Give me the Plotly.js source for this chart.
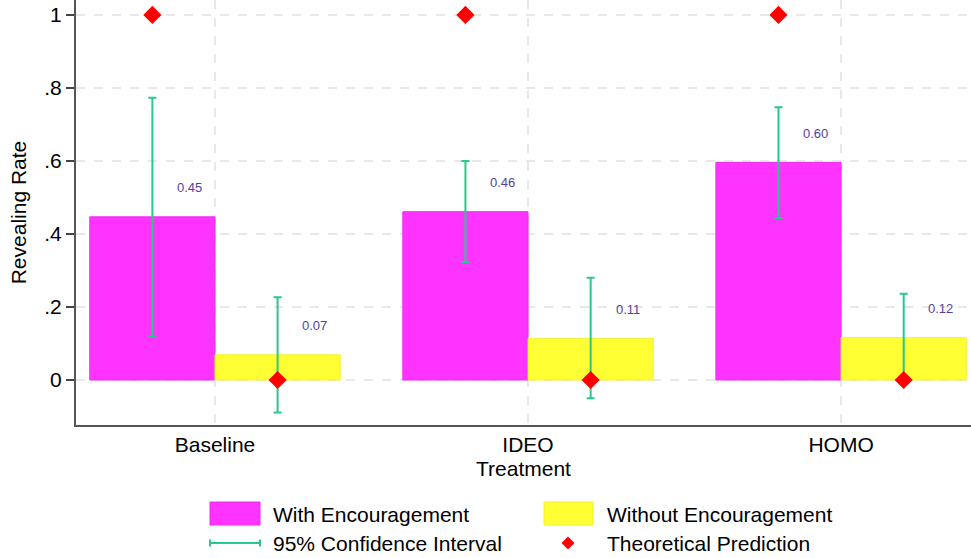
<!DOCTYPE html>
<html>
<head>
<meta charset="utf-8">
<script src="https://cdn.plot.ly/plotly-3.0.1.min.js"></script>
<style>html,body{margin:0;padding:0;background:#fff;}#chart{width:971px;height:558px;}</style>
</head>
<body>
<div id="chart"></div>
<script>
// ---- data ----
const categories = ["Baseline", "IDEO", "HOMO"];
const withEnc = [0.447, 0.461, 0.596];
const withLo = [0.119, 0.323, 0.444];
const withHi = [0.773, 0.600, 0.747];
const withoutEnc = [0.069, 0.114, 0.116];
const withoutLo = [-0.089, -0.050, 0.000];
const withoutHi = [0.227, 0.280, 0.236];
const theoryWith = [1, 1, 1];
const theoryWithout = [0, 0, 0];
const yTickVals = [0, 0.2, 0.4, 0.6, 0.8, 1];
const yTickText = ["0", ".2", ".4", ".6", ".8", "1"];

// ---- styles ----
const FONT = "Liberation Sans, Arial, Helvetica, sans-serif";
const MAG = "#ff33ff", MAG_LINE = "#f02cf0";
const YEL = "#ffff33", YEL_LINE = "#f2f22e";
const GREEN = "#26c98c";
const RED = "#ff0000";
const PURPLE = "#553fa3";
const OFF = 0.2;

const idx = categories.map((c, i) => i);
const xWith = idx.map(i => i - OFF);
const xWithout = idx.map(i => i + OFF);

const errStyle = {type: "data", symmetric: false, color: GREEN, thickness: 2, width: 4, visible: true};

const traces = [
  {type: "bar", name: "With Encouragement", x: xWith, y: withEnc, width: 0.4,
   marker: {color: MAG, line: {color: MAG_LINE, width: 1}},
   error_y: Object.assign({}, errStyle, {array: withEnc.map((v, i) => withHi[i] - v), arrayminus: withEnc.map((v, i) => v - withLo[i])}),
   showlegend: false, hoverinfo: "skip"},
  {type: "bar", name: "Without Encouragement", x: xWithout, y: withoutEnc, width: 0.4,
   marker: {color: YEL, line: {color: YEL_LINE, width: 1}},
   error_y: Object.assign({}, errStyle, {array: withoutEnc.map((v, i) => withoutHi[i] - v), arrayminus: withoutEnc.map((v, i) => v - withoutLo[i])}),
   showlegend: false, hoverinfo: "skip"},
  {type: "scatter", mode: "markers", name: "Theoretical Prediction",
   x: xWith.concat(xWithout), y: theoryWith.concat(theoryWithout),
   marker: {symbol: "diamond", size: 14, color: RED}, showlegend: false, hoverinfo: "skip", cliponaxis: false}
];

const annotations = [];
withEnc.forEach((v, i) => annotations.push({x: xWith[i] + 0.118, y: v + 0.08, xref: "x", yref: "y", text: v.toFixed(2), showarrow: false, font: {family: FONT, size: 13, color: PURPLE}}));
withoutEnc.forEach((v, i) => annotations.push({x: xWithout[i] + 0.118, y: v + 0.08, xref: "x", yref: "y", text: v.toFixed(2), showarrow: false, font: {family: FONT, size: 13, color: PURPLE}}));

// custom legend (paper coords relative to plot area: l=76, r=971, t=0, b=425)
const W = 971, H = 558;
const ML = 76, PW = 895, PT = 0, PH = 425;
const px = x => (x - ML) / PW, py = y => (PT + PH - y) / PH;
const legendTexts = [
  {t: "With Encouragement", x: 271, y: 514},
  {t: "Without Encouragement", x: 605, y: 514},
  {t: "95% Confidence Interval", x: 271, y: 543},
  {t: "Theoretical Prediction", x: 605, y: 543}
];
legendTexts.forEach(l => annotations.push({xref: "paper", yref: "paper", x: px(l.x), y: py(l.y), xanchor: "left", yanchor: "middle", text: l.t, showarrow: false, font: {family: FONT, size: 21, color: "#000"}}));

const shapes = [
  {type: "rect", xref: "paper", yref: "paper", x0: px(210), x1: px(260), y0: py(502), y1: py(525), fillcolor: MAG, line: {color: MAG_LINE, width: 1}},
  {type: "rect", xref: "paper", yref: "paper", x0: px(544), x1: px(593), y0: py(502), y1: py(525), fillcolor: YEL, line: {color: YEL_LINE, width: 1}},
  {type: "line", xref: "paper", yref: "paper", x0: px(210), x1: px(260), y0: py(543), y1: py(543), line: {color: GREEN, width: 2}},
  {type: "line", xref: "paper", yref: "paper", x0: px(210), x1: px(210), y0: py(539.5), y1: py(546.5), line: {color: GREEN, width: 2}},
  {type: "line", xref: "paper", yref: "paper", x0: px(260), x1: px(260), y0: py(539.5), y1: py(546.5), line: {color: GREEN, width: 2}},
  {type: "path", xref: "paper", yref: "paper",
   path: `M ${px(568)} ${py(536.5)} L ${px(574.5)} ${py(543)} L ${px(568)} ${py(549.5)} L ${px(561.5)} ${py(543)} Z`,
   fillcolor: RED, line: {color: RED, width: 0}}
];

const layout = {
  width: W, height: H,
  margin: {l: ML, r: W - ML - PW, t: PT, b: H - PT - PH, pad: 0},
  paper_bgcolor: "#fff", plot_bgcolor: "#fff",
  font: {family: FONT, size: 21, color: "#000"},
  showlegend: false,
  barmode: "overlay",
  xaxis: {
    range: [-0.444, 2.415], tickmode: "array", tickvals: idx, ticktext: categories,
    showgrid: true, gridcolor: "#e8e8e8", griddash: "dash", gridwidth: 1.5,
    zeroline: false, showline: true, linecolor: "#555", linewidth: 2,
    ticks: "", tickfont: {family: FONT, size: 21, color: "#000"},
    title: {text: "Treatment", font: {family: FONT, size: 21, color: "#000"}, standoff: 6},
    fixedrange: true
  },
  yaxis: {
    range: [-0.1233, 1.041], tickmode: "array", tickvals: yTickVals, ticktext: yTickText,
    showgrid: true, gridcolor: "#e8e8e8", griddash: "dash", gridwidth: 1.5,
    zeroline: false, showline: true, linecolor: "#555", linewidth: 2,
    ticks: "outside", ticklen: 8, tickwidth: 1.5, tickcolor: "#444",
    tickfont: {family: FONT, size: 21, color: "#000"},
    title: {text: "Revealing Rate", font: {family: FONT, size: 21, color: "#000"}, standoff: 12},
    fixedrange: true
  },
  annotations: annotations,
  shapes: shapes
};

Plotly.newPlot("chart", traces, layout, {displayModeBar: false, staticPlot: true});
</script>
</body>
</html>
